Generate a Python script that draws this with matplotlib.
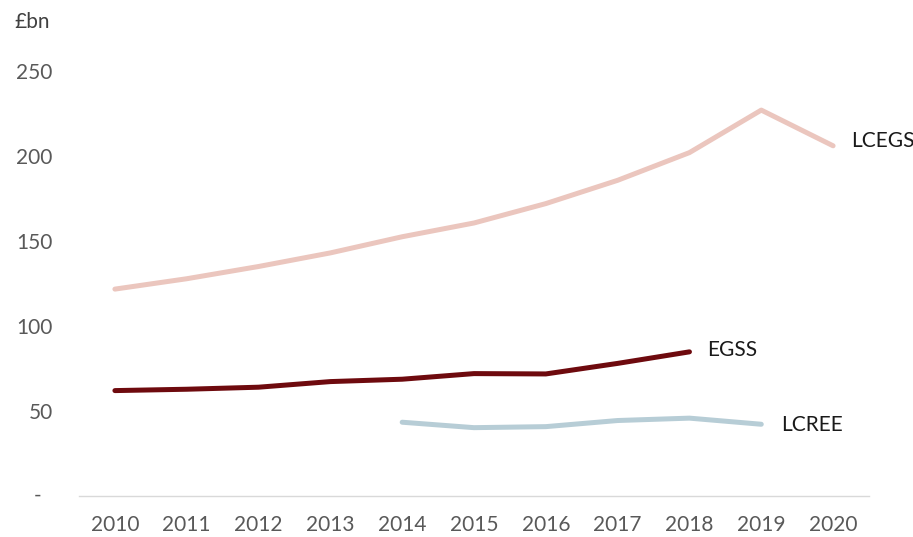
import matplotlib
matplotlib.use("Agg")
import matplotlib.pyplot as plt
import matplotlib.transforms as mtransforms

plt.rcParams['font.family'] = ['Lato', 'DejaVu Sans']

years = [2010, 2011, 2012, 2013, 2014, 2015, 2016, 2017, 2018, 2019, 2020]
lcegs = [121.7, 127.8, 135.0, 143.0, 152.5, 160.6, 172.0, 185.7, 202.0, 227.0, 206.0]

egss_years = [2010, 2011, 2012, 2013, 2014, 2015, 2016, 2017, 2018]
egss = [62.0, 62.8, 64.0, 67.3, 68.7, 72.0, 71.8, 78.0, 84.8]

lcree_years = [2014, 2015, 2016, 2017, 2018, 2019]
lcree = [43.4, 40.2, 40.8, 44.4, 45.8, 42.2]

y_ticks = [0, 50, 100, 150, 200, 250]
y_tick_labels = ["", "50", "100", "150", "200", "250"]

c_lcegs = "#EBC6BE"
c_egss = "#6E0A0E"
c_lcree = "#B7CDD6"
tick_color = "#595959"

fig = plt.figure(figsize=(9.13, 5.37), dpi=100)
ax = fig.add_axes([79 / 913, 1 - 496 / 537, (869 - 79) / 913, (496 - 71) / 537])

line_kw = dict(lw=3.6, solid_capstyle="round", solid_joinstyle="round")
ax.plot(years, lcegs, color=c_lcegs, zorder=2, **line_kw)
ax.plot(egss_years, egss, color=c_egss, zorder=3, **line_kw)
ax.plot(lcree_years, lcree, color=c_lcree, zorder=3, **line_kw)

ax.set_xlim(2009.5, 2020.5)
ax.set_ylim(0, 250)

ax.set_xticks(years)
ax.set_xticklabels([str(y) for y in years])
ax.set_yticks(y_ticks)
ax.set_yticklabels(y_tick_labels)
ax.tick_params(axis="both", length=0, labelsize=15, colors=tick_color)
ax.tick_params(axis="x", pad=14)
ax.tick_params(axis="y", pad=19)

for side in ["left", "right", "top"]:
    ax.spines[side].set_visible(False)
ax.spines["bottom"].set_color("#D9D9D9")
ax.spines["bottom"].set_linewidth(1.0)

# zero shown as a dash, accounting style
trans = mtransforms.blended_transform_factory(fig.transFigure, ax.transData)
ax.text(38 / 913, 0, "-", transform=trans, ha="center", va="center",
        fontsize=15, color=tick_color)

# unit label
fig.text(14 / 913, 1 - 22 / 537, "£bn", ha="left", va="center",
         fontsize=15, color="#404040")

# series labels at the line ends
ax.text(2020.25, lcegs[-1] + 3, "LCEGS", ha="left", va="center", fontsize=15,
        color="#1a1a1a", clip_on=False)
ax.text(egss_years[-1] + 0.25, egss[-1] + 1, "EGSS", ha="left", va="center", fontsize=15,
        color="#1a1a1a", clip_on=False)
ax.text(lcree_years[-1] + 0.28, lcree[-1] - 0.5, "LCREE", ha="left", va="center", fontsize=15,
        color="#1a1a1a", clip_on=False)

fig.savefig("out.png", dpi=100)
